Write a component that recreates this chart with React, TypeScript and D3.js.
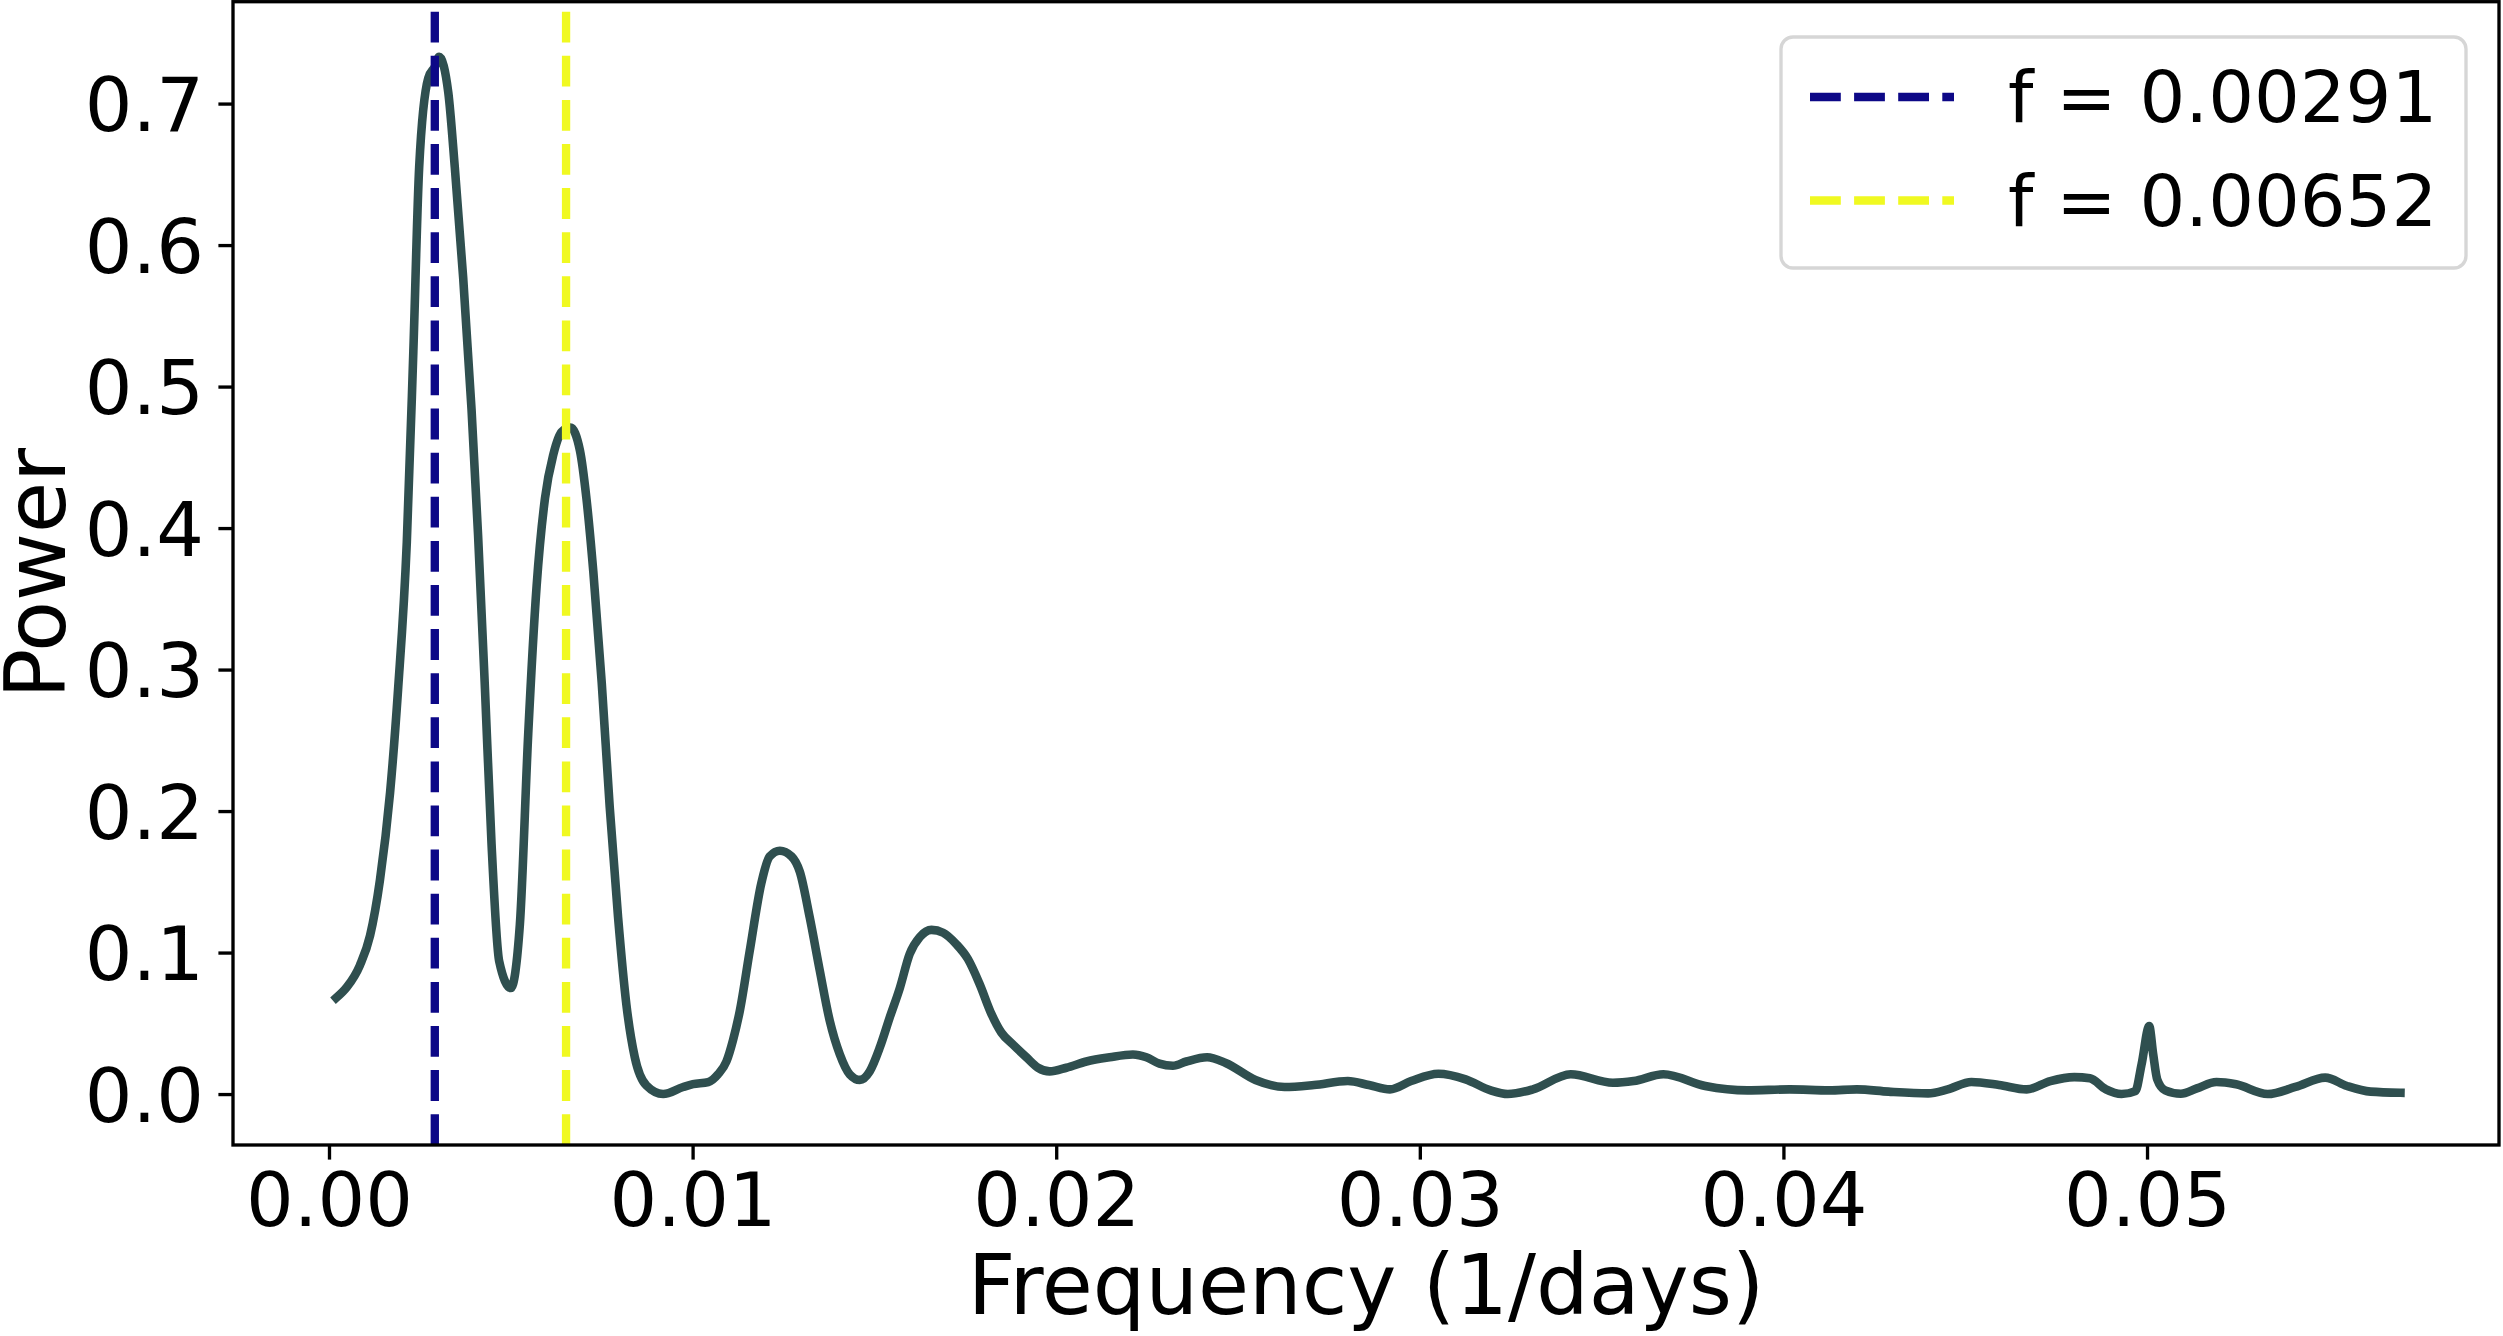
import React, { useRef, useEffect } from 'react';
import * as d3 from 'd3';

// Periodogram (frequency in 1/days, power)
const freqs = [
  0.0002, 0.00049, 0.00085, 0.00113, 0.0014, 0.00168, 0.0019, 0.00214, 0.00232, 0.00248,
  0.00273, 0.00291, 0.00303, 0.00328, 0.00346, 0.00369, 0.00392, 0.0041, 0.00429, 0.00447,
  0.00468, 0.005, 0.00525, 0.00548, 0.00571, 0.00594, 0.00617, 0.0064, 0.00664, 0.0069,
  0.00708, 0.00727, 0.0075, 0.00772, 0.00795, 0.00818, 0.00841, 0.00873, 0.00919, 0.00974,
  0.01001, 0.01043, 0.0107, 0.01093, 0.01111, 0.0113, 0.01157, 0.01189, 0.01212, 0.0124,
  0.01272, 0.01295, 0.01322, 0.0135, 0.01377, 0.01405, 0.01432, 0.0146, 0.01487, 0.01515,
  0.01542, 0.0157, 0.01597, 0.01625, 0.01657, 0.01689, 0.01725, 0.01757, 0.01789, 0.01822,
  0.01849, 0.01881, 0.01918, 0.0195, 0.01982, 0.02028, 0.02083, 0.02147, 0.02211, 0.02248,
  0.02284, 0.02321, 0.02358, 0.02415, 0.02466, 0.02548, 0.02628, 0.02709, 0.02802, 0.0286,
  0.02918, 0.02976, 0.03051, 0.03126, 0.03195, 0.03242, 0.03311, 0.03415, 0.03531, 0.03588,
  0.0367, 0.03785, 0.03901, 0.04017, 0.04126, 0.04202, 0.04289, 0.04398, 0.04452, 0.04517,
  0.04593, 0.04669, 0.04734, 0.048, 0.04843, 0.04887, 0.0493, 0.04968, 0.04985, 0.05006,
  0.05017, 0.05028, 0.0505, 0.05093, 0.05137, 0.05191, 0.05245, 0.05332, 0.05408, 0.0549,
  0.0555, 0.05615, 0.05697,
];
const power = [
  0.068, 0.0755, 0.091, 0.112, 0.151, 0.213, 0.286, 0.39, 0.525, 0.655,
  0.718, 0.726, 0.733, 0.708, 0.655, 0.577, 0.484, 0.395, 0.286, 0.177,
  0.094, 0.075, 0.12, 0.255, 0.359, 0.421, 0.452, 0.468, 0.471, 0.455,
  0.421, 0.369, 0.291, 0.203, 0.125, 0.063, 0.026, 0.006, 0.0, 0.005,
  0.007, 0.0085, 0.014, 0.023, 0.038, 0.059, 0.101, 0.149, 0.168, 0.172,
  0.168, 0.157, 0.125, 0.087, 0.052, 0.028, 0.014, 0.01, 0.016, 0.033,
  0.054, 0.075, 0.099, 0.111, 0.116, 0.114, 0.106, 0.0955, 0.078, 0.0565,
  0.0435, 0.035, 0.026, 0.0186, 0.016, 0.0186, 0.023, 0.026, 0.028, 0.026,
  0.0215, 0.02, 0.023, 0.026, 0.022, 0.01, 0.005, 0.0064, 0.0092, 0.0064,
  0.0033, 0.0092, 0.0144, 0.0104, 0.0026, 0.0, 0.0033, 0.014, 0.008, 0.0092,
  0.014, 0.0057, 0.0026, 0.0033, 0.0026, 0.0033, 0.0017, 0.0005, 0.0033, 0.0085,
  0.0064, 0.0033, 0.0092, 0.012, 0.0111, 0.0033, 0.0, 0.0021, 0.021, 0.048,
  0.028, 0.0104, 0.0026, 0.0002, 0.004, 0.0085, 0.0069, 0.0, 0.005, 0.0116,
  0.0057, 0.0017, 0.0009,
];

const peakFreqs = [0.00291, 0.00652];
const peakColors = ['#0d0887', '#f0f921'];
const legendLabels = ['f = 0.00291', 'f = 0.00652'];

const xTicks = [0, 0.01, 0.02, 0.03, 0.04, 0.05];
const yTicks = [0, 0.1, 0.2, 0.3, 0.4, 0.5, 0.6, 0.7];

const W = 2503;
const H = 1336;
const FONT = '"DejaVu Sans", sans-serif';

const App: React.FC = () => {
  const svgRef = useRef<SVGSVGElement | null>(null);

  useEffect(() => {
    if (!svgRef.current) return;
    const svg = d3.select(svgRef.current);
    svg.selectAll('*').remove();

    // axes box in pixels
    const left = 233;
    const right = 2499;
    const top = 1.7;
    const bottom = 1145;
    const lw = 8.6;
    const dash = '30.8,13.3';

    const x = d3.scaleLinear().domain([-0.00264, 0.05968]).range([left, right]);
    const y = d3.scaleLinear().domain([-0.036, 0.772]).range([bottom, top]);

    svg.append('rect').attr('width', W).attr('height', H).attr('fill', 'white');

    svg
      .append('clipPath')
      .attr('id', 'plot-clip')
      .append('rect')
      .attr('x', left)
      .attr('y', top)
      .attr('width', right - left)
      .attr('height', bottom - top);

    const plot = svg.append('g').attr('clip-path', 'url(#plot-clip)');

    // Periodogram curve
    const pts: [number, number][] = freqs.map((f, i) => [f, power[i]]);
    const line = d3
      .line<[number, number]>()
      .x(d => x(d[0]))
      .y(d => y(d[1]))
      .curve(d3.curveMonotoneX);

    plot
      .append('path')
      .attr('d', line(pts)!)
      .attr('fill', 'none')
      .attr('stroke', '#2f4f4f')
      .attr('stroke-width', lw)
      .attr('stroke-linejoin', 'round')
      .attr('stroke-linecap', 'square');

    // Peak markers
    plot
      .selectAll('line.peak')
      .data(peakFreqs)
      .enter()
      .append('line')
      .attr('class', 'peak')
      .attr('x1', d => x(d))
      .attr('x2', d => x(d))
      .attr('y1', bottom)
      .attr('y2', top)
      .attr('stroke', (_, i) => peakColors[i])
      .attr('stroke-width', 8.33)
      .attr('stroke-dasharray', dash);

    // X axis
    const xAxis = svg
      .append('g')
      .attr('transform', `translate(0,${bottom})`)
      .call(
        d3
          .axisBottom(x)
          .tickValues(xTicks)
          .tickFormat(d3.format('.2f'))
          .tickSize(14.6)
          .tickPadding(13.2)
      );
    xAxis.select('.domain').remove();
    xAxis.selectAll('line').attr('stroke', 'black').attr('stroke-width', 3.33);
    xAxis
      .selectAll('text')
      .attr('fill', 'black')
      .style('font-family', FONT)
      .style('font-size', '75px');

    // Y axis
    const yAxis = svg
      .append('g')
      .attr('transform', `translate(${left},0)`)
      .call(
        d3
          .axisLeft(y)
          .tickValues(yTicks)
          .tickFormat(d3.format('.1f'))
          .tickSize(14.6)
          .tickPadding(14.4)
      );
    yAxis.select('.domain').remove();
    yAxis.selectAll('line').attr('stroke', 'black').attr('stroke-width', 3.33);
    yAxis
      .selectAll('text')
      .attr('fill', 'black')
      .attr('dy', '0.364em')
      .style('font-family', FONT)
      .style('font-size', '75px');

    // Spines
    svg
      .append('rect')
      .attr('x', left)
      .attr('y', top)
      .attr('width', right - left)
      .attr('height', bottom - top)
      .attr('fill', 'none')
      .attr('stroke', 'black')
      .attr('stroke-width', 3.33);

    // Axis labels
    svg
      .append('text')
      .attr('x', (left + right) / 2)
      .attr('y', 1314)
      .attr('text-anchor', 'middle')
      .style('font-family', FONT)
      .style('font-size', '83px')
      .text('Frequency (1/days)');

    svg
      .append('text')
      .attr('transform', `translate(65,${(top + bottom) / 2}) rotate(-90)`)
      .attr('text-anchor', 'middle')
      .style('font-family', FONT)
      .style('font-size', '83px')
      .text('Power');

    // Legend
    const legend = svg.append('g');
    legend
      .append('rect')
      .attr('x', 1781)
      .attr('y', 37)
      .attr('width', 2466 - 1781)
      .attr('height', 268 - 37)
      .attr('rx', 12)
      .attr('fill', 'white')
      .attr('fill-opacity', 0.8)
      .attr('stroke', '#d6d6d6')
      .attr('stroke-width', 3.33);

    const rows = legend
      .selectAll('g.row')
      .data(legendLabels)
      .enter()
      .append('g')
      .attr('class', 'row')
      .attr('transform', (_, i) => `translate(0,${97 + i * 103.5})`);

    rows
      .append('line')
      .attr('x1', 1810)
      .attr('x2', 1954)
      .attr('y1', 0)
      .attr('y2', 0)
      .attr('stroke', (_, i) => peakColors[i])
      .attr('stroke-width', 8.33)
      .attr('stroke-dasharray', dash);

    rows
      .append('text')
      .attr('x', 2008)
      .attr('y', 25)
      .style('font-family', FONT)
      .style('font-size', '72px')
      .text(d => d);
  }, []);

  return (
    <svg
      ref={svgRef}
      width={W}
      height={H}
      style={{ position: 'absolute', left: 0, top: 0 }}
    ></svg>
  );
};

export default App;
